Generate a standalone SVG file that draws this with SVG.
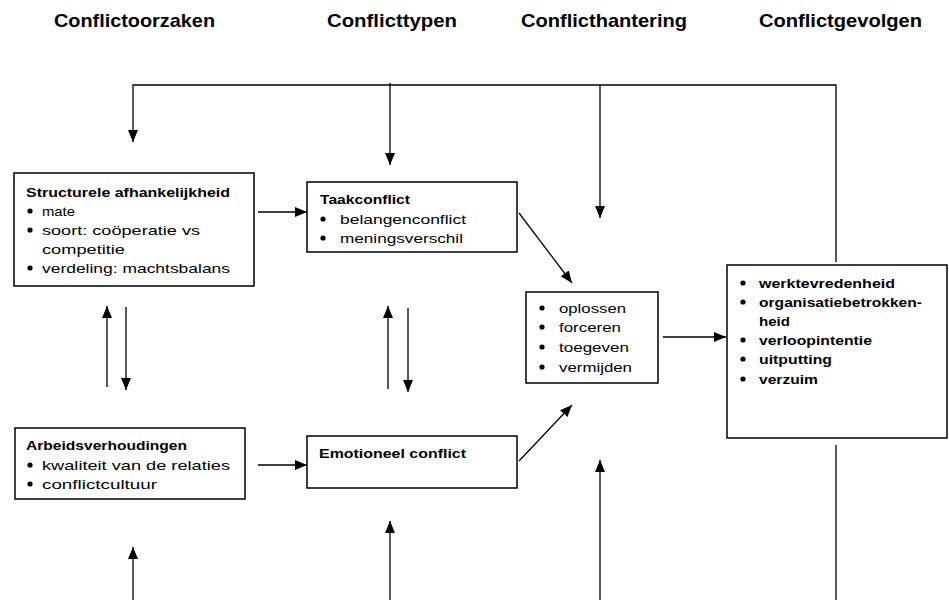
<svg xmlns="http://www.w3.org/2000/svg" width="949" height="600" viewBox="0 0 949 600">
<style>
.hd{font-family:"Liberation Sans",Arial,sans-serif;font-weight:bold;font-size:19px;fill:#000}
.t{font-family:"Liberation Sans",Arial,sans-serif;font-size:13.5px;fill:#000}
.b{font-weight:bold}
.box{fill:#fff;stroke:#000;stroke-width:1.5}
.c{fill:none;stroke:#000;stroke-width:1.3}
</style>
<defs>
<marker id="ah" markerUnits="userSpaceOnUse" markerWidth="12" markerHeight="10" refX="12" refY="5" orient="auto">
<path d="M0,0 L12,5 L0,10 z" fill="#000"/>
</marker>
</defs>
<rect width="949" height="600" fill="#fff"/>
<g id="headers">
<text class="hd" x="54" y="27" textLength="161" lengthAdjust="spacingAndGlyphs">Conflictoorzaken</text>
<text class="hd" x="327" y="27" textLength="130" lengthAdjust="spacingAndGlyphs">Conflicttypen</text>
<text class="hd" x="521" y="27" textLength="166" lengthAdjust="spacingAndGlyphs">Conflicthantering</text>
<text class="hd" x="759" y="27" textLength="163" lengthAdjust="spacingAndGlyphs">Conflictgevolgen</text>
</g>
<g id="connectors">
<path class="c" d="M836,262 V85 H133 V142" marker-end="url(#ah)"/>
<path class="c" d="M390,83 V165" marker-end="url(#ah)"/>
<path class="c" d="M600,85 V218" marker-end="url(#ah)"/>
<path class="c" d="M258,212 H307" marker-end="url(#ah)"/>
<path class="c" d="M258,465 H307" marker-end="url(#ah)"/>
<path class="c" d="M519,213 L572,283" marker-end="url(#ah)"/>
<path class="c" d="M519,461 L572,405" marker-end="url(#ah)"/>
<path class="c" d="M663,337 H726" marker-end="url(#ah)"/>
<path class="c" d="M107,387 V306" marker-end="url(#ah)"/>
<path class="c" d="M126,307 V390" marker-end="url(#ah)"/>
<path class="c" d="M388,389 V306" marker-end="url(#ah)"/>
<path class="c" d="M408,308 V392" marker-end="url(#ah)"/>
<path class="c" d="M133,600 V547" marker-end="url(#ah)"/>
<path class="c" d="M390,600 V521" marker-end="url(#ah)"/>
<path class="c" d="M600,600 V460" marker-end="url(#ah)"/>
<path class="c" d="M836,445 V600"/>
</g>
<g id="structurele">
<rect class="box" x="14" y="173" width="240" height="113"/>
<text class="t b" x="26" y="197" textLength="204" lengthAdjust="spacingAndGlyphs">Structurele afhankelijkheid</text>
<circle cx="30" cy="211" r="2.6"/><text class="t" x="42" y="216" textLength="33" lengthAdjust="spacingAndGlyphs">mate</text>
<circle cx="30" cy="230" r="2.6"/><text class="t" x="42" y="235" textLength="158" lengthAdjust="spacingAndGlyphs">soort: coöperatie vs</text>
<text class="t" x="42" y="254" textLength="83" lengthAdjust="spacingAndGlyphs">competitie</text>
<circle cx="30" cy="268" r="2.6"/><text class="t" x="42" y="273" textLength="188" lengthAdjust="spacingAndGlyphs">verdeling: machtsbalans</text>
</g>
<g id="taakconflict">
<rect class="box" x="307" y="182" width="210" height="70"/>
<text class="t b" x="320" y="204" textLength="90" lengthAdjust="spacingAndGlyphs">Taakconflict</text>
<circle cx="323" cy="219" r="2.6"/><text class="t" x="340" y="224" textLength="126" lengthAdjust="spacingAndGlyphs">belangenconflict</text>
<circle cx="323" cy="238" r="2.6"/><text class="t" x="340" y="243" textLength="123" lengthAdjust="spacingAndGlyphs">meningsverschil</text>
</g>
<g id="hantering">
<rect class="box" x="526" y="292" width="132" height="91"/>
<circle cx="542" cy="308" r="2.6"/><text class="t" x="559" y="313" textLength="67" lengthAdjust="spacingAndGlyphs">oplossen</text>
<circle cx="542" cy="327" r="2.6"/><text class="t" x="559" y="332" textLength="62" lengthAdjust="spacingAndGlyphs">forceren</text>
<circle cx="542" cy="347" r="2.6"/><text class="t" x="559" y="352" textLength="70" lengthAdjust="spacingAndGlyphs">toegeven</text>
<circle cx="542" cy="367" r="2.6"/><text class="t" x="559" y="372" textLength="73" lengthAdjust="spacingAndGlyphs">vermijden</text>
</g>
<g id="gevolgen">
<rect class="box" x="727" y="265" width="220" height="173"/>
<circle cx="743" cy="283" r="2.6"/><text class="t b" x="759" y="288" textLength="136" lengthAdjust="spacingAndGlyphs">werktevredenheid</text>
<circle cx="743" cy="302" r="2.6"/><text class="t b" x="759" y="307" textLength="163" lengthAdjust="spacingAndGlyphs">organisatiebetrokken-</text>
<text class="t b" x="759" y="326" textLength="31" lengthAdjust="spacingAndGlyphs">heid</text>
<circle cx="743" cy="340" r="2.6"/><text class="t b" x="759" y="345" textLength="113" lengthAdjust="spacingAndGlyphs">verloopintentie</text>
<circle cx="743" cy="359" r="2.6"/><text class="t b" x="759" y="364" textLength="73" lengthAdjust="spacingAndGlyphs">uitputting</text>
<circle cx="743" cy="379" r="2.6"/><text class="t b" x="759" y="384" textLength="59" lengthAdjust="spacingAndGlyphs">verzuim</text>
</g>
<g id="arbeidsverhoudingen">
<rect class="box" x="15" y="428" width="230" height="71"/>
<text class="t b" x="26" y="450" textLength="161" lengthAdjust="spacingAndGlyphs">Arbeidsverhoudingen</text>
<circle cx="30" cy="465" r="2.6"/><text class="t" x="42" y="470" textLength="188" lengthAdjust="spacingAndGlyphs">kwaliteit van de relaties</text>
<circle cx="30" cy="484" r="2.6"/><text class="t" x="42" y="489" textLength="115" lengthAdjust="spacingAndGlyphs">conflictcultuur</text>
</g>
<g id="emotioneel">
<rect class="box" x="307" y="436" width="210" height="52"/>
<text class="t b" x="319" y="458" textLength="147" lengthAdjust="spacingAndGlyphs">Emotioneel conflict</text>
</g>
</svg>
